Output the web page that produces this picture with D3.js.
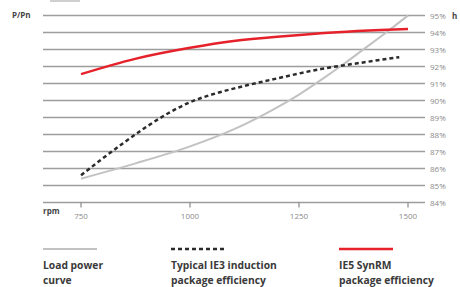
<!DOCTYPE html>
<html>
<head>
<meta charset="utf-8">
<script src="https://cdn.jsdelivr.net/npm/d3@7"></script>
<style>
  body { margin: 0; background: #fff; }
  svg { display: block; }
</style>
</head>
<body>
<div id="chart"></div>
<script>
  const rpmTicks = [750, 1000, 1250, 1500];
  const pctTicks = [84, 85, 86, 87, 88, 89, 90, 91, 92, 93, 94, 95];

  const loadPower = [
    [750, 85.4], [875, 86.3], [1000, 87.3], [1100, 88.3], [1200, 89.6],
    [1250, 90.35], [1300, 91.2], [1350, 92.1], [1400, 93.05], [1450, 94.0], [1500, 95.0]
  ];
  const ie3 = [
    [750, 85.6], [800, 86.6], [850, 87.55], [900, 88.45], [950, 89.25], [1000, 89.9],
    [1050, 90.35], [1100, 90.7], [1200, 91.3], [1300, 91.85], [1400, 92.25], [1480, 92.55]
  ];
  const ie5 = [
    [750, 91.55], [874, 92.45], [1000, 93.1], [1100, 93.5], [1200, 93.75],
    [1252, 93.85], [1300, 93.95], [1500, 94.2]
  ];

  const legendItems = [
    { lines: ["Load power", "curve"], color: "#c2c2c2", dash: null, width: 2 },
    { lines: ["Typical IE3 induction", "package efficiency"], color: "#2b2b2b", dash: "4,3", width: 2.5 },
    { lines: ["IE5 SynRM", "package efficiency"], color: "#e5222b", dash: null, width: 2.5 }
  ];

  const width = 460, height = 287;

  const x = d3.scaleLinear().domain([750, 1500]).range([81, 408]);
  const y = d3.scaleLinear().domain([84, 95]).range([202.5, 15.5]);

  const svg = d3.select("#chart").append("svg")
    .attr("width", width)
    .attr("height", height)
    .style("font-family", "'Open Sans', 'Noto Sans', sans-serif");

  // small cut-off bar at the top
  svg.append("rect")
    .attr("x", 50).attr("y", 0).attr("width", 30).attr("height", 2)
    .attr("fill", "#d0d0d0");

  // horizontal grid lines + right labels
  const grid = svg.append("g");
  grid.selectAll("line")
    .data(pctTicks)
    .enter().append("line")
    .attr("x1", 43).attr("x2", 425)
    .attr("y1", d => y(d)).attr("y2", d => y(d))
    .attr("stroke", "#9d9d9d")
    .attr("stroke-width", 1.6);

  grid.selectAll("text")
    .data(pctTicks)
    .enter().append("text")
    .attr("x", 430)
    .attr("y", d => y(d) + 3)
    .attr("font-size", 8)
    .attr("fill", "#8a8a8a")
    .text(d => d + "%");

  // x axis ticks
  const xAxis = svg.append("g");
  xAxis.selectAll("line")
    .data(rpmTicks)
    .enter().append("line")
    .attr("x1", d => x(d)).attr("x2", d => x(d))
    .attr("y1", 202.5).attr("y2", 207.5)
    .attr("stroke", "#8a8a8a")
    .attr("stroke-width", 1.2);
  xAxis.selectAll("text")
    .data(rpmTicks)
    .enter().append("text")
    .attr("x", d => x(d))
    .attr("y", 219)
    .attr("text-anchor", "middle")
    .attr("font-size", 8)
    .attr("fill", "#8a8a8a")
    .text(d => d);

  // axis titles
  svg.append("text").attr("x", 12).attr("y", 18)
    .attr("font-size", 8).attr("font-weight", "bold").attr("fill", "#444")
    .text("P/Pn");
  svg.append("text").attr("x", 452).attr("y", 18.5)
    .attr("font-size", 8).attr("font-weight", "bold").attr("fill", "#444")
    .text("h");
  svg.append("text").attr("x", 43).attr("y", 214)
    .attr("font-size", 8).attr("font-weight", "bold").attr("fill", "#444")
    .text("rpm");

  const line = d3.line()
    .x(d => x(d[0]))
    .y(d => y(d[1]))
    .curve(d3.curveMonotoneX);

  const series = [loadPower, ie3, ie5];
  series.forEach((s, i) => {
    const st = legendItems[i];
    svg.append("path")
      .datum(s)
      .attr("d", line)
      .attr("fill", "none")
      .attr("stroke", st.color)
      .attr("stroke-width", st.width)
      .attr("stroke-dasharray", st.dash);
  });

  // legend
  const legendX = [43, 171, 339];
  const lg = svg.append("g")
    .selectAll("g")
    .data(legendItems)
    .enter().append("g")
    .attr("transform", (d, i) => `translate(${legendX[i]},0)`);

  lg.append("line")
    .attr("x1", 0).attr("x2", 54)
    .attr("y1", 249).attr("y2", 249)
    .attr("stroke", d => d.color)
    .attr("stroke-width", d => d.width)
    .attr("stroke-dasharray", d => d.dash);

  lg.each(function(d) {
    d3.select(this).selectAll("text")
      .data(d.lines)
      .enter().append("text")
      .attr("x", 0)
      .attr("y", (t, j) => 269 + j * 15)
      .attr("font-size", 10.3)
      .attr("font-weight", "bold")
      .attr("fill", "#3a3a3a")
      .text(t => t);
  });
</script>
</body>
</html>
